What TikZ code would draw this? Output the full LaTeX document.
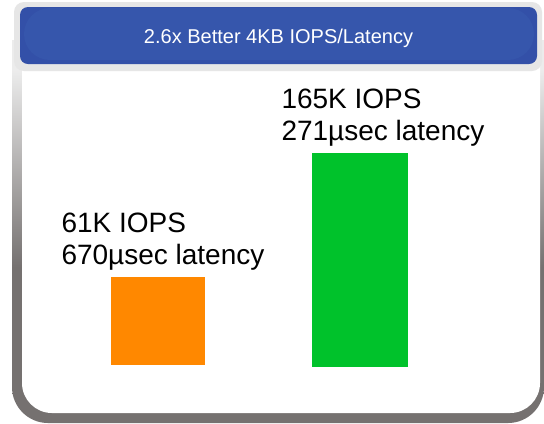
\documentclass[tikz,border=0pt]{standalone}
\usepackage{fontspec}
\setmainfont{Liberation Sans}
\definecolor{framelight}{HTML}{ECECEC}
\definecolor{framedark}{HTML}{757170}
\definecolor{headgray}{HTML}{E6E6E6}
\definecolor{headblue}{HTML}{3350A8}
\definecolor{headgloss}{HTML}{3656AC}
\definecolor{barorange}{HTML}{FF8800}
\definecolor{bargreen}{HTML}{00C22B}
\pgfdeclareverticalshading{frameshade}{100bp}{color(0bp)=(framedark); color(43.4bp)=(framedark); color(66.7bp)=(framelight); color(100bp)=(framelight)}
\tikzset{
  bigtext/.style={anchor=base west, inner sep=0pt, outer sep=0pt, text=black, font=\fontsize{28bp}{32bp}\selectfont},
  headtext/.style={anchor=base, inner sep=0pt, text=white, font=\fontsize{20bp}{24bp}\selectfont},
  bar/.style={anchor=north west, inner sep=0pt, outer sep=0pt, draw=none}
}
\begin{document}
\begin{tikzpicture}[x=1bp, y=-1bp]
\useasboundingbox (0,0) rectangle (544,423);
\fill[white] (0,0) rectangle (544,423);
% outer frame with vertical gradient
\begin{scope}
  \clip (0,40) rectangle (544,423);
  \shade[shading=frameshade, rounded corners=36bp] (12,0) rectangle (544,423);
\end{scope}
% white interior
\fill[white, rounded corners=30bp] (22,20) rectangle (540,413);
% header
\fill[headgray, rounded corners=10bp] (14,2) rectangle (542,71);
\fill[headblue, rounded corners=8bp] (20,7) rectangle (537,64);
\begin{scope}
  \clip[rounded corners=8bp] (20,7) rectangle (537,64);
  \fill[headgloss, rounded corners=26bp] (24,8) rectangle (534,60);
\end{scope}
\node[headtext] (title) at (278.5,43) {2.6x Better 4KB IOPS/Latency};
% bars
\node[bar, fill=barorange, minimum width=94bp, minimum height=88bp] (baro) at (111,277) {};
\node[bar, fill=bargreen, minimum width=96bp, minimum height=214bp] (barg) at (312,153) {};
% labels
\node[bigtext] (lo1) at (61.5,232) {61K IOPS};
\node[bigtext] (lo2) at (61.5,264) {670µsec latency};
\node[bigtext] (lg1) at (281.5,108) {165K IOPS};
\node[bigtext] (lg2) at (281.5,140) {271µsec latency};
\end{tikzpicture}
\end{document}
